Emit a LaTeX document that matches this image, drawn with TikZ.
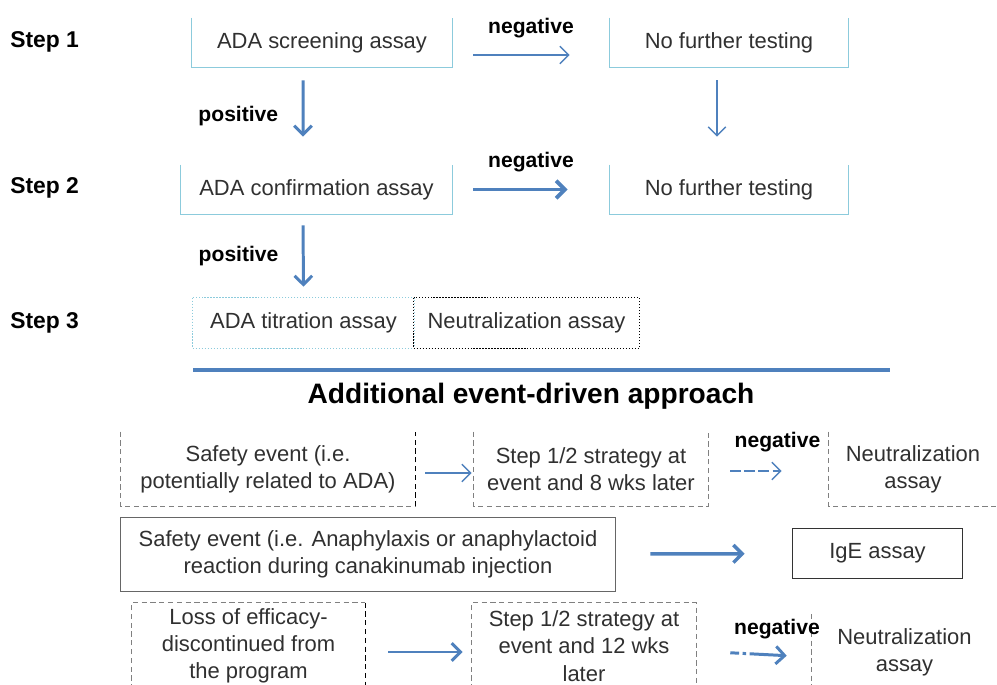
\documentclass[tikz,border=0pt]{standalone}
\usepackage{fontspec}
\setmainfont{Liberation Sans}
\usetikzlibrary{arrows.meta}
\definecolor{arrowblue}{HTML}{4F81BD}
\definecolor{boxblue}{HTML}{8CCBDC}
\definecolor{textgray}{HTML}{303030}

\begin{document}
\begin{tikzpicture}[x=0.02cm, y=-0.02cm]
	\useasboundingbox (0,0) rectangle (997,685);
	\begin{scope}[every node/.style={inner sep=0pt, align=center, text=textgray, font=\fontsize{12.5}{15.5}\selectfont},
		steplabel/.style={anchor=west, text=black, font=\bfseries\fontsize{13}{15}\selectfont}]
		\node[steplabel] (Step1) at (10,42) {Step 1};
			\node[minimum width=5.2cm, minimum height=0.98cm] (Screening) at (322,42.5) {ADA screening assay};
			\node[minimum width=4.76cm, minimum height=0.98cm] (Further1) at (729,42.5) {No further testing};
		\node[steplabel] (Step2) at (10,188) {Step 2};
			\node[minimum width=5.42cm, minimum height=0.98cm] (Confirmation) at (316.5,189.5) {ADA confirmation assay};
			\node[minimum width=4.76cm, minimum height=0.98cm] (Further2) at (729,189.5) {No further testing};
		\node[steplabel] (Step3) at (10,323) {Step 3};
			\node[minimum width=4.42cm, minimum height=1cm] (Titration) at (303.5,323) {ADA titration assay};
			\node[minimum width=4.5cm, minimum height=1cm] (Neutralization) at (526.5,323) {Neutralization assay};
		\node[text=black, font=\bfseries\fontsize{16}{18}\selectfont] (Additional) at (531,396) {Additional event-driven approach};
		\node[minimum width=5.88cm, minimum height=1.48cm] (Safety event) at (268,469) {Safety event (i.e.\\potentially related to ADA)};
			\node[minimum width=4.68cm, minimum height=1.48cm] (Strategy8) at (591,469) {Step 1/2 strategy at\\event and 8 wks later};
			\node[minimum width=3.36cm, minimum height=1.48cm] (Neutralization8) at (913,469) {Neutralization\\assay};
		\node[minimum width=9.88cm, minimum height=1.46cm] (Anaphylaxis) at (368,554.5) {Safety event (i.e. Anaphylaxis or anaphylactoid\\reaction during canakinumab injection};
			\node[minimum width=3.38cm, minimum height=0.98cm] (IgE) at (877.5,553.5) {IgE assay};
		\node[minimum width=4.66cm, minimum height=1.72cm] (Efficacy) at (248.5,646) {Loss of efficacy-\\discontinued from\\the program};
			\node[minimum width=4.48cm, minimum height=1.72cm] (Strategy12) at (584,646) {Step 1/2 strategy at\\event and 12 wks\\later};
			\node[minimum width=3.7cm, minimum height=1.5cm] (Neutralization12) at (904.5,652) {Neutralization\\assay};
	\end{scope}
	% box outlines
	\begin{scope}[line width=0.7pt]
	\draw[boxblue] (Screening.north west) -- (Screening.south west) -- (Screening.south east) -- (Screening.north east);
	\draw[boxblue] (Further1.north west) -- (Further1.south west) -- (Further1.south east) -- (Further1.north east);
	\draw[boxblue] (Confirmation.north west) -- (Confirmation.south west) -- (Confirmation.south east) -- (Confirmation.north east);
	\draw[boxblue] (Further2.north west) -- (Further2.south west) -- (Further2.south east) -- (Further2.north east);
	\draw[boxblue, densely dotted] (Titration.north west) rectangle (Titration.south east);
	\draw[black, densely dotted] (Neutralization.north west) rectangle (Neutralization.south east);
	\draw[arrowblue, line width=2.8pt] (193,370) -- (890,370);
	\draw[gray, densely dashed] (Safety event.north west) -- (Safety event.south west) -- (Safety event.south east);
	\draw[black, densely dashed] (Safety event.south east) -- (Safety event.north east);
	\draw[gray, densely dashed] (Strategy8.north west) -- (Strategy8.south west) -- (Strategy8.south east) -- (Strategy8.north east);
	\draw[gray, densely dashed] (Neutralization8.north west) -- (Neutralization8.south west) -- (Neutralization8.south east);
	\draw[gray!80!black] (Anaphylaxis.north west) rectangle (Anaphylaxis.south east);
	\draw[black!80] (IgE.north west) rectangle (IgE.south east);
	\draw[gray, densely dashed] (Efficacy.south west) -- (Efficacy.north west) -- (Efficacy.north east);
	\draw[black, densely dashed] (Efficacy.north east) -- (Efficacy.south east);
	\draw[gray, densely dashed] (Strategy12.south west) -- (Strategy12.north west) -- (Strategy12.north east) -- (Strategy12.south east);
	\draw[gray, densely dashed] (Neutralization12.north west) -- (Neutralization12.south west);
	\end{scope}
	\begin{scope}[>={Straight Barb[length=5pt, width=10pt]}, arrowblue, every node/.style={text=black, font=\bfseries\fontsize{12}{14}\selectfont}]
	\path [->, line width=0.8pt] ([yshift=-0.25cm]Screening.east) edge[shorten <=0.42cm, shorten >=0.8cm] node[above=0.2cm] {negative} ([yshift=-0.25cm]Further1.west);
	\path [->, line width=1.7pt] ([xshift=-0.38cm]Screening.south) edge[shorten <=0.26cm, shorten >=0.56cm] node[left=0.35cm] {positive} ([xshift=-0.27cm]Confirmation.north);
	\path [->, line width=0.8pt] ([xshift=-0.24cm]Further1.south) edge[shorten <=0.26cm, shorten >=0.56cm] ([xshift=-0.24cm]Further2.north);

	\path [->, line width=2.2pt] (Confirmation) edge[shorten <=0.42cm, shorten >=0.84cm] node[above=0.2cm] {negative} (Further2);
	\path [->, line width=1.7pt] ([xshift=-0.27cm]Confirmation.south) edge[shorten <=0.22cm, shorten >=0.22cm] node[left=0.35cm] {positive} (Titration.north);

	\path [->, line width=0.8pt] ([yshift=-0.08cm]Safety event.east) edge[shorten <=0.2cm, shorten >=0.04cm] ([yshift=-0.08cm]Strategy8.west);
	\path [->, line width=0.8pt] ([yshift=-0.04cm]Strategy8.east) edge[dash pattern=on 6pt off 2pt, shorten <=0.44cm, shorten >=0.94cm] node[above=0.24cm, xshift=0.18cm] {negative} ([yshift=-0.04cm]Neutralization8.west);
	\path [->, line width=2pt] (Anaphylaxis) edge[shorten <=0.7cm, shorten >=0.96cm] (IgE);
	\path [->, line width=1.7pt] ([yshift=-0.12cm]Efficacy.east) edge[shorten <=0.46cm, shorten >=0.18cm] ([yshift=-0.12cm]Strategy12.west);
	\path [->, line width=1.7pt] ([yshift=-0.1cm]Strategy12.east) edge[dash pattern=on 5pt off 2pt on 2pt off 2pt on 30pt, shorten <=0.68cm, shorten >=0.5cm] node[above=0.16cm, xshift=0.46cm] {negative} ([yshift=-0.1cm]Neutralization12.west);
	\end{scope}
\end{tikzpicture}
\end{document}
